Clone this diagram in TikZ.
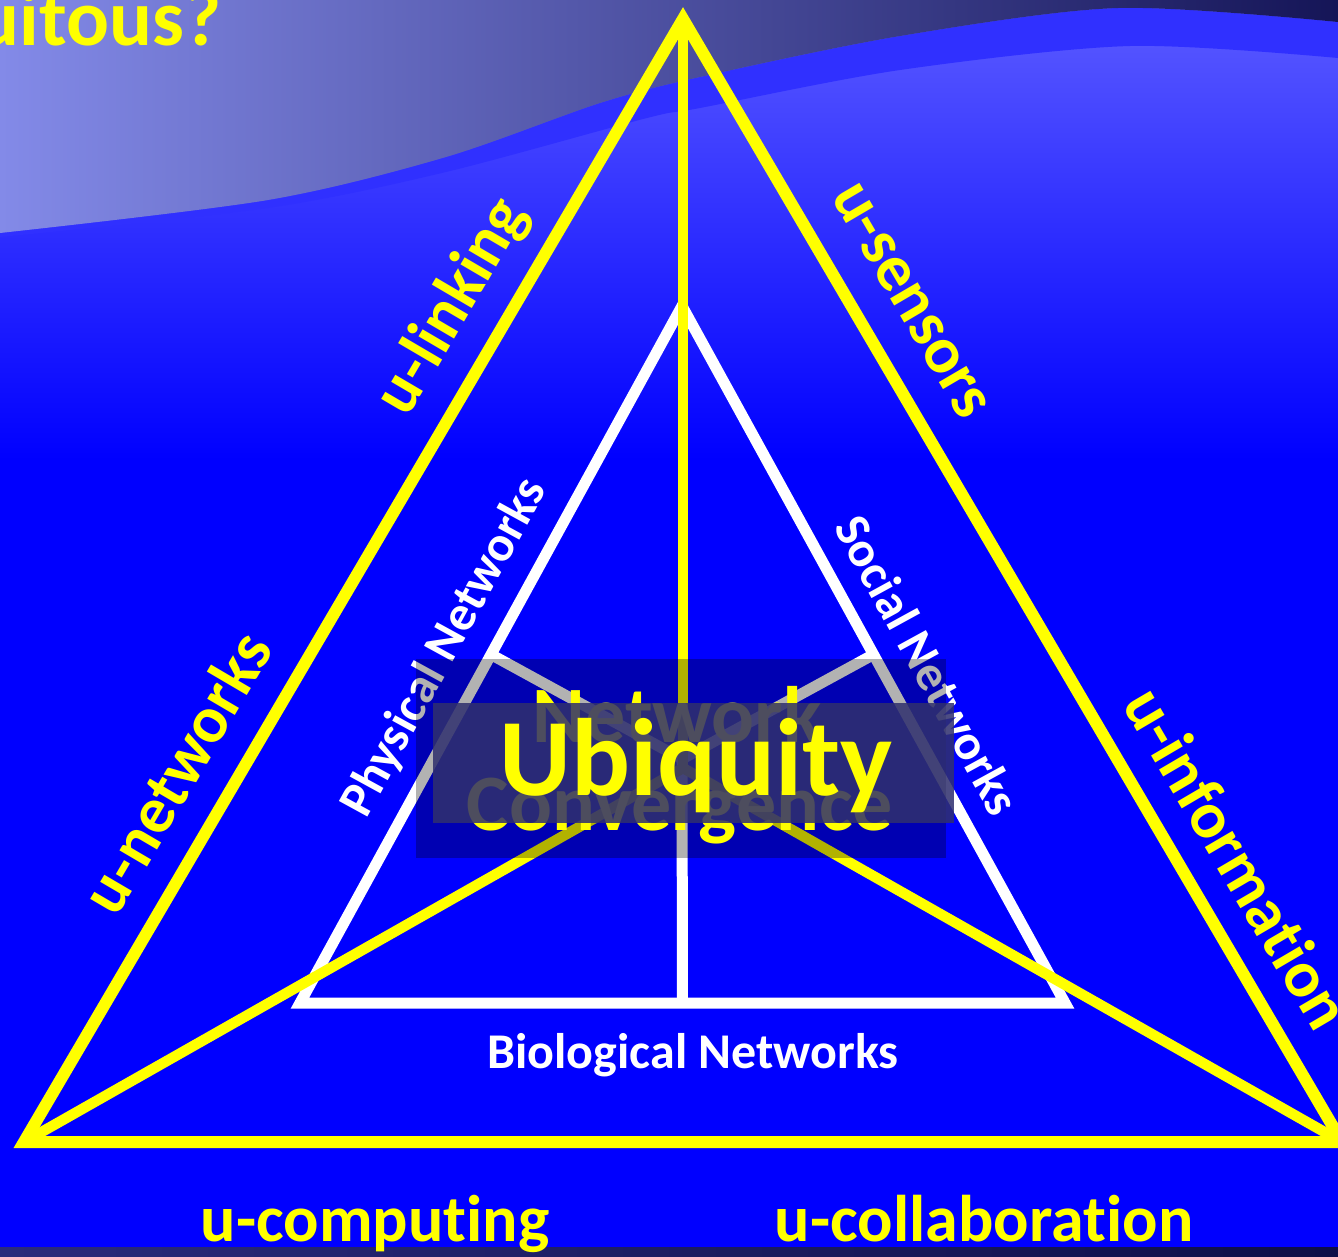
\documentclass[tikz,border=0pt]{standalone}
\usepackage{fontspec}
\setmainfont{Carlito}[Ligatures={NoCommon,NoContextual}]
\usetikzlibrary{calc}
\definecolor{bgblue}{HTML}{0000FF}
\definecolor{topblue}{HTML}{5C5CFF}
\definecolor{bandblue}{HTML}{3030FF}
\definecolor{lavL}{HTML}{838AE8}
\definecolor{lavM}{HTML}{6264C4}
\definecolor{lavR}{HTML}{151557}
\definecolor{stripL}{HTML}{2B2B7C}
\definecolor{stripR}{HTML}{0E0E48}
\definecolor{uyellow}{HTML}{FFFF00}
\definecolor{boxnavy}{HTML}{30306E}
\tikzset{
  yline/.style={draw=uyellow, line width=12pt, line join=miter},
  ymed/.style={draw=uyellow, line width=10.5pt},
  wline/.style={draw=white, line width=11pt, line join=miter},
  ylab/.style={text=uyellow, font=\fontsize{66}{70}\selectfont\bfseries, inner sep=0pt},
  wlab/.style={text=white, font=\fontsize{50}{56}\selectfont\bfseries, inner sep=0pt},
}
\begin{document}
\begin{tikzpicture}[x=1pt,y=-1pt]
\useasboundingbox (0,0) rectangle (1338,1256);
\clip (0,0) rectangle (1338,1256);
% background
\fill[bgblue] (0,0) rectangle (1338,1256);
\shade[top color=topblue, bottom color=bgblue] (0,0) rectangle (1338,460);
\fill[bandblue] plot[smooth] coordinates {(0,233) (268,200) (446,157) (600,103) (700,77) (900,36) (1118,8) (1338,22)}
  -- plot[smooth] coordinates {(1338,58) (1130,46) (900,70) (700,108) (647,118) (446,172) (268,208) (0,237)} -- cycle;
\shade[left color=lavL, middle color=lavM, right color=lavR] (0,0) -- plot[smooth] coordinates {(0,233) (268,200) (446,157) (600,103) (700,77) (900,36) (1118,8) (1338,22)} -- (1338,0) -- cycle;
\shade[left color=stripL, right color=stripR] (0,1247) rectangle (1338,1256);
% title
\node[anchor=base east, text=uyellow, font=\fontsize{80}{80}\selectfont\bfseries, inner sep=0pt] (title) at (221,45) {Ubiquitous?};
% coordinates
\coordinate (A) at (683,19);
\coordinate (BL) at (24,1142);
\coordinate (BR) at (1342,1142);
\coordinate (G) at (683,768);
\coordinate (a) at (682,306);
\coordinate (bl) at (300,1003);
\coordinate (br) at (1065,1003);
\coordinate (c) at (682,759);
\coordinate (ml) at ($(a)!0.5!(bl)$);
\coordinate (mr) at ($(a)!0.5!(br)$);
\coordinate (mb) at ($(bl)!0.5!(br)$);
% inner white triangle
\draw[wline] (a) -- (bl) -- (br) -- cycle;
\draw[wline] (ml) -- (c) -- (mr);
\draw[wline] (mb) -- (c);
% outer yellow triangle
\draw[yline] (A) -- (BL) -- (BR) -- cycle;
\draw[ymed] (A) -- (G);
\draw[ymed] (BL) -- (G);
\draw[ymed] (BR) -- (G);
% labels
\node[ylab, rotate=59.6] (ulink) at (453,307) {u-linking};
\node[ylab, rotate=59.6] (unet) at (176,772) {u-networks};
\node[ylab, rotate=-59.6] (usens) at (910,301) {u-sensors};
\node[ylab, rotate=-59.6] (uinfo) at (1238,858) {u-informa\mbox{t}ion};
\node[ylab, anchor=base] (ucomp) at (375,1241) {u-compu\mbox{t}ing};
\node[ylab, anchor=base] (ucoll) at (984,1241) {u-collabora\mbox{t}ion};
\node[wlab, rotate=61.3] (phys) at (445,648) {Physical Networks};
\node[wlab, rotate=-61.3] (soc) at (928,665) {Social Networks};
\node[wlab, anchor=base] (bio) at (693,1068) {Biological Networks};
% overlay boxes
\fill[black, opacity=0.3] (416,659) rectangle (946,858);
\node[anchor=base, text=uyellow, font=\fontsize{80}{88}\selectfont\bfseries, inner sep=0pt] (net) at (677,742) {Network};
\node[anchor=base, text=uyellow, font=\fontsize{80}{88}\selectfont\bfseries, inner sep=0pt] (conv) at (680,830) {Convergence};
\fill[boxnavy, opacity=0.86] (433,703) rectangle (954,823);
\node[anchor=base, text=uyellow, font=\fontsize{110}{112}\selectfont\bfseries, inner sep=0pt] (ubi) at (696,795) {Ubiquity};
\end{tikzpicture}
\end{document}
